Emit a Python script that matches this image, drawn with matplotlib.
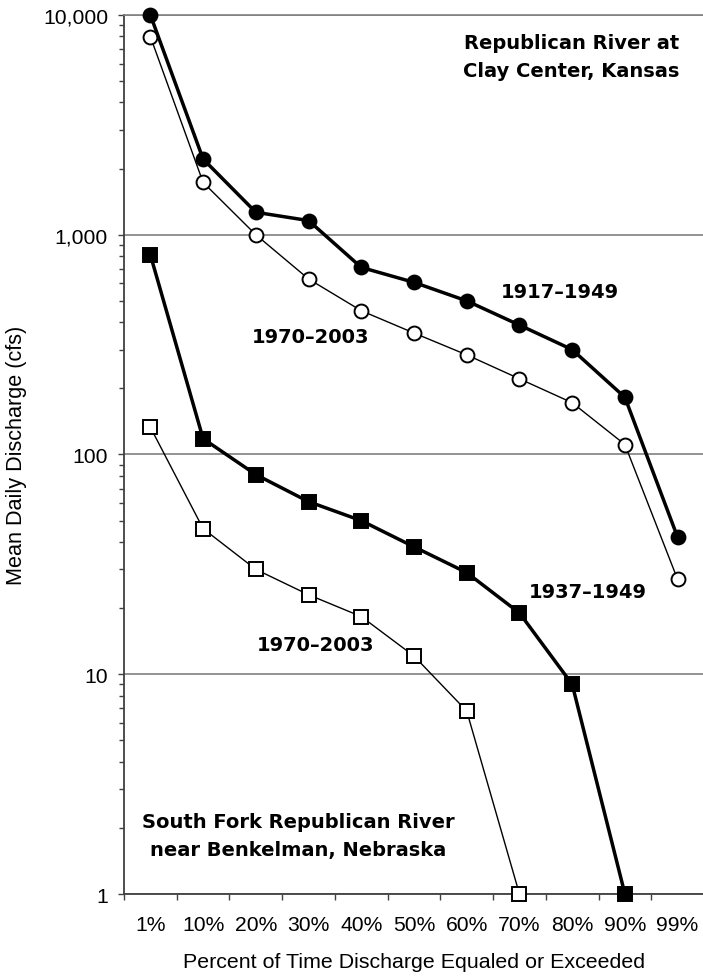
import matplotlib
matplotlib.use("Agg")
import matplotlib.pyplot as plt
from matplotlib.ticker import FixedLocator, FuncFormatter, LogLocator, NullFormatter

# exceedance categories
percent_labels = ["1%", "10%", "20%", "30%", "40%", "50%", "60%", "70%", "80%", "90%", "99%"]

# Republican River at Clay Center, Kansas (cfs)
clay_center_1917_1949 = [10000, 2210, 1265, 1160, 710, 607, 500, 388, 300, 182, 42]
clay_center_1970_2003 = [7970, 1730, 1000, 629, 451, 357, 284, 221, 172, 111, 27]

# South Fork Republican River near Benkelman, Nebraska (cfs)
benkelman_1937_1949 = [810, 118, 81, 61, 50, 38, 29, 19, 9, 1]
benkelman_1970_2003 = [133, 46, 30, 23, 18.3, 12.1, 6.8, 1]

AXIS_COLOR = "#404040"
GRID_COLOR = "#808080"
LABEL_FONT = "Liberation Sans"
NOTE_FONT = "DejaVu Sans"


def plot_series(ax, values, marker, filled, thick):
    x = list(range(len(values)))
    ax.plot(x, values, color="black",
            linewidth=2.5 if thick else 1.0,
            marker=marker, markersize=10 if marker == "o" else 10.5,
            markerfacecolor="black" if filled else "white",
            markeredgecolor="black", markeredgewidth=1.4,
            clip_on=False, zorder=4 if thick else 3)


def plot_flow_duration():
    fig = plt.figure(figsize=(7.03, 9.79), dpi=100)
    ax = fig.add_axes([0.1764, 0.0858, 0.8250, 0.8979])

    plot_series(ax, clay_center_1970_2003, "o", False, False)
    plot_series(ax, clay_center_1917_1949, "o", True, True)
    plot_series(ax, benkelman_1970_2003, "s", False, False)
    plot_series(ax, benkelman_1937_1949, "s", True, True)

    ax.set_yscale("log")
    ax.set_ylim(1, 10000)
    ax.set_xlim(-0.5, len(percent_labels) - 0.5)

    # y axis
    ax.yaxis.set_major_locator(FixedLocator([1, 10, 100, 1000, 10000]))
    ax.yaxis.set_major_formatter(FuncFormatter(lambda v, p: f"{v:,.0f}"))
    ax.yaxis.set_minor_locator(LogLocator(base=10, subs=range(2, 10)))
    ax.yaxis.set_minor_formatter(NullFormatter())
    ax.tick_params(axis="y", which="major", length=4.5, width=1.0, color=AXIS_COLOR,
                   pad=7, labelsize=15.2)
    ax.tick_params(axis="y", which="minor", length=3.5, width=1.0, color=AXIS_COLOR)

    # x axis: labels at category centres, ticks at the bin edges
    ax.set_xticks(range(len(percent_labels)))
    ax.set_xticklabels(percent_labels)
    ax.xaxis.set_minor_locator(FixedLocator([i - 0.5 for i in range(len(percent_labels) + 1)]))
    ax.tick_params(axis="x", which="major", length=0, pad=15, labelsize=15.2)
    ax.tick_params(axis="x", which="minor", length=4, width=1.0, color=AXIS_COLOR)

    for lbl in ax.get_xticklabels() + ax.get_yticklabels():
        lbl.set_fontfamily(LABEL_FONT)

    ax.yaxis.grid(True, which="major", color=GRID_COLOR, linewidth=1.2)
    ax.set_axisbelow(True)

    ax.spines["right"].set_visible(False)
    ax.spines["top"].set_color(GRID_COLOR)
    ax.spines["top"].set_linewidth(1.2)
    for side in ["left", "bottom"]:
        ax.spines[side].set_color(AXIS_COLOR)
        ax.spines[side].set_linewidth(1.3)

    ax.set_ylabel("Mean Daily Discharge (cfs)", fontsize=15.6, family=LABEL_FONT)
    ax.set_xlabel("Percent of Time Discharge Equaled or Exceeded", fontsize=15.4,
                  family=LABEL_FONT, va="top")
    ax.yaxis.set_label_coords(-0.168, 0.5)
    ax.xaxis.set_label_coords(0.5, -0.066)

    note = dict(fontsize=14, fontweight="bold", family=NOTE_FONT, transform=ax.transAxes)
    ax.text(0.957, 0.953, "Republican River at\nClay Center, Kansas",
            ha="right", va="center", linespacing=1.6, **note)
    ax.text(0.300, 0.067, "South Fork Republican River\nnear Benkelman, Nebraska",
            ha="center", va="center", linespacing=1.6, **note)
    ax.text(0.752, 0.685, "1917\u20131949", ha="center", va="center", **note)
    ax.text(0.322, 0.634, "1970\u20132003", ha="center", va="center", **note)
    ax.text(0.800, 0.344, "1937\u20131949", ha="center", va="center", **note)
    ax.text(0.331, 0.284, "1970\u20132003", ha="center", va="center", **note)

    fig.savefig("out.png", dpi=100)


if __name__ == "__main__":
    plot_flow_duration()
